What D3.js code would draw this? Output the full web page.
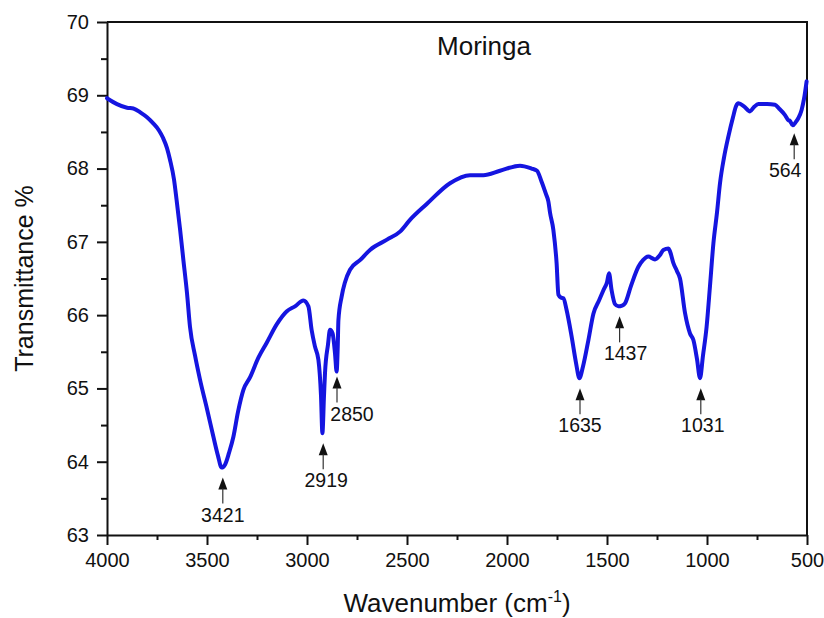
<!DOCTYPE html>
<html>
<head>
<meta charset="utf-8">
<script src="https://cdn.jsdelivr.net/npm/d3@7/dist/d3.min.js"></script>
<style>
  body { margin: 0; background: #fff; }
  text { font-family: "Liberation Sans", Arial, sans-serif; fill: #111; }
</style>
</head>
<body>
<div id="chart-area"></div>
<script>
// FTIR spectrum of Moringa
let wavenumber = [4000, 3950, 3900, 3868, 3830, 3800, 3770, 3740, 3720, 3700, 3685, 3665, 3652, 3635, 3618,
	3600, 3585, 3560, 3535, 3500, 3468, 3445, 3427, 3410, 3390, 3368, 3345, 3318, 3285, 3243, 3202, 3150,
	3102, 3060, 3018, 2993, 2977, 2960, 2943, 2930, 2923, 2915, 2910, 2895, 2885, 2872, 2860, 2852, 2846,
	2843, 2827, 2810, 2785, 2735, 2685, 2600, 2535, 2485, 2400, 2285, 2185, 2118, 2035, 1935, 1877, 1850,
	1827, 1805, 1793, 1785, 1768, 1752, 1743, 1730, 1718, 1702, 1677, 1655, 1638, 1620, 1593, 1568, 1540,
	1518, 1500, 1490, 1477, 1460, 1443, 1425, 1410, 1380, 1343, 1320, 1293, 1260, 1235, 1218, 1193, 1185,
	1168, 1150, 1135, 1110, 1085, 1068, 1050, 1035, 1020, 1002, 985, 968, 950, 935, 915, 893, 870, 855,
	843, 815, 785, 765, 743, 700, 660, 640, 610, 593, 585, 572, 555, 543, 527, 515, 502];
let transmittance = [68.96, 68.88, 68.83, 68.82, 68.76, 68.70, 68.62, 68.52, 68.42, 68.28, 68.12, 67.85, 67.57, 67.18, 66.75,
	66.30, 65.84, 65.45, 65.12, 64.72, 64.34, 64.08, 63.92, 63.96, 64.12, 64.34, 64.68, 64.98, 65.15, 65.42, 65.62, 65.88,
	66.05, 66.12, 66.20, 66.12, 65.80, 65.57, 65.39, 64.90, 64.39, 64.90, 65.21, 65.60, 65.80, 65.75, 65.48, 65.23, 65.60,
	65.93, 66.25, 66.45, 66.62, 66.75, 66.89, 67.03, 67.14, 67.30, 67.52, 67.80, 67.91, 67.91, 67.97, 68.04, 68.00, 67.97,
	67.82, 67.65, 67.55, 67.40, 67.16, 66.71, 66.28, 66.24, 66.23, 66.07, 65.71, 65.35, 65.14, 65.30, 65.66, 66.02, 66.20,
	66.34, 66.45, 66.57, 66.34, 66.15, 66.12, 66.13, 66.16, 66.40, 66.66, 66.75, 66.80, 66.76, 66.82, 66.89, 66.91, 66.87,
	66.71, 66.60, 66.50, 66.03, 65.75, 65.66, 65.40, 65.14, 65.45, 65.84, 66.40, 66.98, 67.40, 67.80, 68.15, 68.44, 68.70, 68.85,
	68.89, 68.85, 68.78, 68.84, 68.88, 68.88, 68.87, 68.82, 68.73, 68.66, 68.65, 68.59, 68.64, 68.69, 68.80, 68.95, 69.19];

// labelled absorption bands and the transmittance at each minimum
let peakLabels = ["3421", "2919", "2850", "1635", "1437", "1031", "564"];
let peakWavenumber = [3421, 2919, 2850, 1635, 1437, 1031, 564];
let peakTransmittance = [63.92, 64.39, 65.23, 65.14, 66.12, 65.14, 68.59];

let xTicks = [4000, 3500, 3000, 2500, 2000, 1500, 1000, 500];
let yTicks = [63, 64, 65, 66, 67, 68, 69, 70];

let margin = { top: 22, right: 17, bottom: 83, left: 107 },
	width = 824 - margin.left - margin.right,
	height = 618 - margin.top - margin.bottom;

let svg = d3.select("#chart-area").append("svg")
	.attr("width", 824)
	.attr("height", 618);

let group = svg.append("g")
	.attr("transform", "translate(" + margin.left + "," + margin.top + ")");

let x = d3.scaleLinear().domain([4000, 500]).range([0, width]);
let y = d3.scaleLinear().domain([63, 70]).range([height, 0]);

// minor ticks first, then the major ones on top
group.append("g")
	.attr("class", "minor")
	.attr("transform", "translate(0," + height + ")")
	.call(d3.axisBottom(x).tickValues(d3.range(3750, 500, -500)).tickSize(5).tickFormat(""))
	.call(g => g.select(".domain").remove());
group.append("g")
	.attr("class", "minor")
	.call(d3.axisLeft(y).tickValues(d3.range(63.5, 70, 1)).tickSize(6).tickFormat(""))
	.call(g => g.select(".domain").remove());

let axisBottom = d3.axisBottom(x).tickValues(xTicks).tickSize(10).tickPadding(8)
	.tickSizeOuter(0).tickFormat(d3.format("d"));
group.append("g")
	.attr("class", "bottom axis")
	.attr("transform", "translate(0," + height + ")")
	.call(axisBottom);

let axisLeft = d3.axisLeft(y).tickValues(yTicks).tickSize(10).tickPadding(8)
	.tickSizeOuter(0).tickFormat(d3.format("d"));
group.append("g")
	.attr("class", "left axis")
	.call(axisLeft);

group.selectAll(".axis text")
	.attr("font-size", "20px")
	.style("font-family", "'Liberation Sans', Arial, sans-serif")
	.attr("fill", "#111");
group.selectAll(".axis path, .tick line")
	.attr("stroke", "#111")
	.attr("stroke-width", 2);

// frame: top and right edges
group.append("path")
	.attr("d", "M0,0H" + width + "V" + height)
	.attr("fill", "none")
	.attr("stroke", "#111")
	.attr("stroke-width", 2);

let points = wavenumber.map((w, i) => [w, transmittance[i]]);
let line = d3.line()
	.x(d => x(d[0]))
	.y(d => y(d[1]))
	.curve(d3.curveMonotoneX);

group.append("path")
	.datum(points)
	.attr("d", line)
	.attr("fill", "none")
	.attr("stroke", "#1515e0")
	.attr("stroke-width", 4)
	.attr("stroke-linejoin", "round")
	.attr("stroke-linecap", "round");

// arrows with band labels
let labelNudge = [0, 3, 15, 0, 6, 2, -9];
let tipGap = [10, 10, 5, 10, 10, 10, 8];
peakWavenumber.forEach((w, i) => {
	let px = x(w), tip = y(peakTransmittance[i]) + tipGap[i];
	group.append("path")
		.attr("d", "M" + px + "," + tip + "L" + (px - 4.5) + "," + (tip + 12) + "L" + (px + 4.5) + "," + (tip + 12) + "Z")
		.attr("fill", "#111");
	group.append("line")
		.attr("x1", px).attr("x2", px)
		.attr("y1", tip + 11).attr("y2", tip + 26)
		.attr("stroke", "#333")
		.attr("stroke-width", 1.2);
	group.append("text")
		.attr("x", px + labelNudge[i])
		.attr("y", tip + 44)
		.attr("font-size", "19.5px")
		.attr("text-anchor", "middle")
		.text(peakLabels[i]);
});

group.append("text")
	.attr("x", x(2115))
	.attr("y", y(69.55))
	.attr("font-size", "26px")
	.attr("text-anchor", "middle")
	.text("Moringa");

let xLabel = group.append("text")
	.attr("x", width / 2)
	.attr("y", height + 77)
	.attr("font-size", "26px")
	.attr("text-anchor", "middle");
xLabel.append("tspan").text("Wavenumber (cm");
xLabel.append("tspan").attr("font-size", "16px").attr("dy", "-10").text("-1");
xLabel.append("tspan").attr("dy", "10").text(")");

group.append("text")
	.attr("x", -(height / 2))
	.attr("y", -74)
	.attr("font-size", "25px")
	.attr("text-anchor", "middle")
	.attr("transform", "rotate(-90)")
	.text("Transmittance %");
</script>
</body>
</html>
